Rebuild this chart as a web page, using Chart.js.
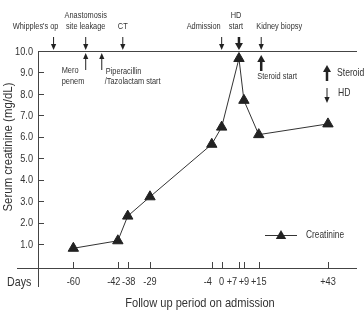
<!DOCTYPE html>
<html>
<head>
<meta charset="utf-8">
<script src="https://cdn.jsdelivr.net/npm/chart.js@4/dist/chart.umd.min.js"></script>
<style>
  html, body { margin: 0; padding: 0; background: #fff; }
  #chart { display: block; }
</style>
</head>
<body>
<canvas id="chart" width="364" height="311"></canvas>
<script>
// ---- data ----
const days = [-60, -42, -38, -29, -4, 0, 7, 9, 15, 43];
const creatinine = [0.8, 1.15, 2.3, 3.2, 5.65, 6.45, 9.65, 7.7, 6.1, 6.6];
const dayLabels = ['-60', '-42', '-38', '-29', '-4', '0', '+7', '+9', '+15', '+43'];
const yTicks = [1, 2, 3, 4, 5, 6, 7, 8, 9, 10];

// events marked above the top line
const topEvents = [
  { day: -68, text: ["Whipples's op"] },
  { day: -55, text: ['Anastomosis', 'site leakage'] },
  { day: -40, text: ['CT'] },
  { day: 0, text: ['Admission'] },
  { day: 7, text: ['HD', 'start'], bold: true },
  { day: 16, text: ['Kidney biopsy'] }
];
// events marked under the top line
const lowEvents = [
  { day: -55, text: [] },
  { day: -48.5, text: ['Piperacillin', '/Tazolactam start'] },
  { day: 16, text: ['Steroid start'], bold: true }
];

// the figure uses a condensed face: Liberation Sans squeezed sideways
const FONT = "'Liberation Sans', Arial, sans-serif";
const INK = '#333';

// label nudges so the crowded tick labels don't run into each other
const tickNudge = { '-42': -4, '-38': 1, '-4': -4, '+7': -7 };
const topTextNudge = { "Whipples's op": -18, 'Admission': -18, 'Kidney biopsy': 18, 'HD': -3 };

function text(ctx, str, x, y, size, align, sx, rot) {
  sx = sx || 0.82;
  ctx.save();
  ctx.font = `${size}px ${FONT}`;
  ctx.textBaseline = 'middle';
  ctx.textAlign = 'left';
  ctx.fillStyle = INK;
  const w = ctx.measureText(str).width * sx;
  const off = align === 'center' ? -w / 2 : align === 'right' ? -w : 0;
  ctx.translate(x, y);
  if (rot) ctx.rotate(rot);
  ctx.scale(sx, 1);
  ctx.fillText(str, off / sx, 0);
  ctx.restore();
}

function arrow(ctx, x, yTail, yHead, bold) {
  const dir = yHead > yTail ? 1 : -1;
  const hw = bold ? 4 : 2.6;
  const hl = bold ? 7 : 6;
  ctx.save();
  ctx.strokeStyle = '#222';
  ctx.fillStyle = '#222';
  ctx.lineWidth = bold ? 2.5 : 1;
  ctx.beginPath();
  ctx.moveTo(x, yTail);
  ctx.lineTo(x, yHead - dir * hl);
  ctx.stroke();
  ctx.beginPath();
  ctx.moveTo(x, yHead);
  ctx.lineTo(x - hw, yHead - dir * hl);
  ctx.lineTo(x + hw, yHead - dir * hl);
  ctx.closePath();
  ctx.fill();
  ctx.restore();
}

function triangle(ctx, x, y, r) {
  ctx.beginPath();
  ctx.moveTo(x, y - r);
  ctx.lineTo(x + r * Math.sqrt(3) / 2, y + r / 2);
  ctx.lineTo(x - r * Math.sqrt(3) / 2, y + r / 2);
  ctx.closePath();
  ctx.fill();
}

const framePlugin = {
  id: 'frame',
  beforeDatasetsDraw(chart) {
    const { ctx, chartArea: a, scales: { x, y } } = chart;
    ctx.save();
    ctx.strokeStyle = '#444';
    ctx.lineWidth = 1;
    ctx.beginPath();
    // y axis (runs below the x axis)
    ctx.moveTo(a.left + 0.5, a.top);
    ctx.lineTo(a.left + 0.5, a.bottom + 19);
    // x axis (starts left of the y axis)
    ctx.moveTo(17, a.bottom + 0.5);
    ctx.lineTo(a.right, a.bottom + 0.5);
    // line at 10.0
    ctx.moveTo(a.left, y.getPixelForValue(10) + 0.5);
    ctx.lineTo(a.right, y.getPixelForValue(10) + 0.5);
    // inward tick marks
    yTicks.forEach(v => {
      if (v === 10) return;
      const py = Math.round(y.getPixelForValue(v)) + 0.5;
      ctx.moveTo(a.left, py);
      ctx.lineTo(a.left + 6, py);
    });
    days.forEach(d => {
      const px = Math.round(x.getPixelForValue(d)) + 0.5;
      ctx.moveTo(px, a.bottom);
      ctx.lineTo(px, a.bottom - 6);
    });
    ctx.stroke();
    ctx.restore();
  },
  afterDraw(chart) {
    const { ctx, chartArea: a, scales: { x, y } } = chart;
    const top = y.getPixelForValue(10);

    // tick labels
    yTicks.forEach(v => text(ctx, v.toFixed(1), 33, y.getPixelForValue(v) + 0.5, 11.5, 'right', 0.8));
    days.forEach((d, i) => {
      const lab = dayLabels[i];
      text(ctx, lab, x.getPixelForValue(d) + (tickNudge[lab] || 0), a.bottom + 14, 11.5, 'center', 0.8);
    });

    // axis titles
    text(ctx, 'Days', 7, a.bottom + 14, 13, 'left');
    text(ctx, 'Follow up period on admission', 200, 303, 13.5, 'center');
    text(ctx, 'Serum creatinine (mg/dL)', 8, 147, 13, 'center', 0.88, -Math.PI / 2);

    // events above the line
    topEvents.forEach(ev => {
      const px = x.getPixelForValue(ev.day);
      arrow(ctx, px, top - 14, top - 1, ev.bold);
      const n = ev.text.length;
      const tx = px + (topTextNudge[ev.text[0]] || 0);
      ev.text.forEach((t, j) => text(ctx, t, tx, top - 24 - (n - 1 - j) * 11, 9, 'center'));
    });

    // events under the line
    const leak = x.getPixelForValue(lowEvents[0].day);
    arrow(ctx, leak, top + 19, top + 2, false);
    text(ctx, 'Mero', leak - 24, top + 20, 9, 'left');
    text(ctx, 'penem', leak - 24, top + 31, 9, 'left');

    const pip = x.getPixelForValue(lowEvents[1].day);
    arrow(ctx, pip, top + 19, top + 2, false);
    text(ctx, lowEvents[1].text[0], pip + 4, top + 21, 9, 'left');
    text(ctx, lowEvents[1].text[1], pip + 3, top + 31, 9, 'left');

    const ster = x.getPixelForValue(lowEvents[2].day);
    arrow(ctx, ster, top + 20, top + 4, true);
    text(ctx, lowEvents[2].text[0], ster + 16, top + 26, 9, 'center');

    // key for the arrows
    arrow(ctx, 327, 81, 65, true);
    arrow(ctx, 327, 88, 103, false);
    text(ctx, 'Steroid', 337, 73, 10.5, 'left');
    text(ctx, 'HD', 338, 93, 10.5, 'left');

    // series key
    ctx.save();
    ctx.strokeStyle = INK;
    ctx.lineWidth = 1;
    ctx.beginPath();
    ctx.moveTo(265, 235.5);
    ctx.lineTo(297, 235.5);
    ctx.stroke();
    ctx.fillStyle = '#222';
    triangle(ctx, 281, 236, 6);
    ctx.restore();
    text(ctx, 'Creatinine', 306, 235, 10.2, 'left');
  }
};

new Chart(document.getElementById('chart'), {
  type: 'line',
  data: {
    datasets: [{
      label: 'Creatinine',
      data: days.map((d, i) => ({ x: d, y: creatinine[i] })),
      borderColor: INK,
      borderWidth: 1,
      pointStyle: 'triangle',
      pointRadius: 6,
      pointBackgroundColor: '#222',
      pointBorderColor: '#222',
      pointBorderWidth: 1,
      tension: 0,
      clip: false
    }]
  },
  options: {
    responsive: false,
    animation: false,
    devicePixelRatio: 1,
    layout: { padding: { top: 51, right: 3, left: 0, bottom: 0 } },
    plugins: { legend: { display: false }, tooltip: { enabled: false } },
    scales: {
      x: {
        type: 'linear',
        min: -74.3,
        max: 54.75,
        ticks: { display: false },
        grid: { display: false, drawTicks: false },
        border: { display: false },
        afterFit: s => { s.height = 43; }
      },
      y: {
        min: -0.12,
        max: 10,
        afterBuildTicks: s => { s.ticks = yTicks.map(v => ({ value: v })); },
        ticks: { display: false },
        grid: { display: false, drawTicks: false },
        border: { display: false },
        afterFit: s => { s.width = 38; }
      }
    }
  },
  plugins: [framePlugin]
});
</script>
</body>
</html>
